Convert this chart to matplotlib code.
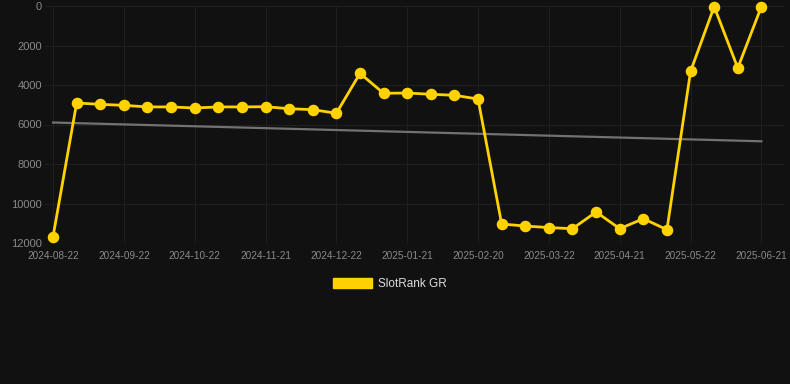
import numpy as np
import matplotlib
matplotlib.use("Agg")
import matplotlib.pyplot as plt
from matplotlib.patches import Patch

plt.rcParams['font.family'] = ['Liberation Sans', 'DejaVu Sans']

# one point roughly every 10 days
dates = ["2024-08-22", "2024-09-01", "2024-09-11", "2024-09-22", "2024-10-02",
         "2024-10-12", "2024-10-22", "2024-11-01", "2024-11-11", "2024-11-21",
         "2024-12-01", "2024-12-11", "2024-12-22", "2025-01-01", "2025-01-11",
         "2025-01-21", "2025-01-31", "2025-02-10", "2025-02-20", "2025-03-02",
         "2025-03-12", "2025-03-22", "2025-04-01", "2025-04-11", "2025-04-21",
         "2025-05-01", "2025-05-11", "2025-05-22", "2025-06-01", "2025-06-11",
         "2025-06-21"]
rank = [11680, 4910, 4980, 5030, 5110, 5110, 5165, 5110, 5110, 5100,
        5200, 5250, 5430, 3410, 4420, 4405, 4470, 4520, 4710, 11040,
        11140, 11220, 11275, 10430, 11275, 10770, 11325, 3310, 30, 3140,
        30]
trend = [5900, 6850]  # start / end of the trend line

bg = '#111111'
yellow = '#ffd200'

fig = plt.figure(figsize=(7.9, 3.84), dpi=100, facecolor=bg)
ax = fig.add_axes([45 / 790, 1 - 243 / 384, 740 / 790, 237 / 384])
ax.set_facecolor(bg)

x = np.arange(len(dates))
ax.plot([x[0], x[-1]], trend, color='#727272', lw=1.6, zorder=2)
ax.plot(x, rank, color=yellow, lw=2, marker='o', ms=7.3,
        zorder=3, clip_on=False)

ax.set_ylim(12000, 0)
ax.set_yticks(np.arange(0, 12001, 2000))
ax.set_xlim(-0.34, 31.0)
ax.set_xticks(x[::3])
ax.set_xticklabels(dates[::3])

ax.grid(True, color='#1f1f1f', lw=0.8)
ax.set_axisbelow(True)
for s in ax.spines.values():
    s.set_visible(False)
ax.tick_params(axis='y', colors='#8a8a8a', labelsize=8, length=0, pad=2)
ax.tick_params(axis='x', colors='#8a8a8a', labelsize=7.2, length=0, pad=6)

handle = Patch(facecolor=yellow, edgecolor=yellow, label='SlotRank GR')
leg = fig.legend(handles=[handle], loc='center', bbox_to_anchor=(390 / 790, 1 - 284 / 384),
                 frameon=False, fontsize=8.5, handlelength=3.3, handleheight=1.0,
                 handletextpad=0.5, labelcolor='#dddddd')

fig.savefig('out.png', facecolor=bg)
